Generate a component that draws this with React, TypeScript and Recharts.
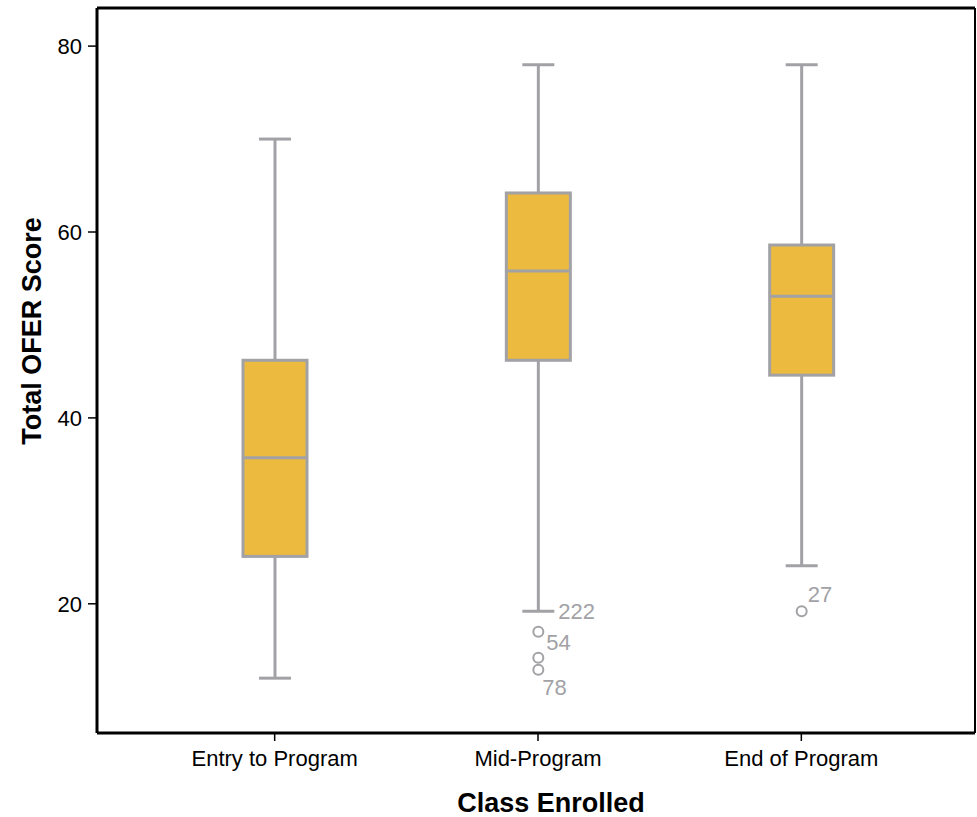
import { Bar, ComposedChart, Customized, XAxis, YAxis } from 'recharts'

const CATEGORIES = ['Entry to Program', 'Mid-Program', 'End of Program']
const WHISKER_LOW = [12, 19.2, 24.1]
const Q1 = [25.1, 46.2, 44.6]
const MEDIAN = [35.7, 55.8, 53.1]
const Q3 = [46.2, 64.2, 58.6]
const WHISKER_HIGH = [70, 78, 78]
// outlier values with SPSS case ids (empty id = unlabelled)
const OUTLIERS = [
  [],
  [
    { value: 19.2, id: '222', hidden: true },
    { value: 17.0, id: '54' },
    { value: 14.2, id: '' },
    { value: 12.9, id: '78' },
  ],
  [{ value: 19.2, id: '27' }],
]
const Y_TICKS = [20, 40, 60, 80]

const FONT = '"Liberation Sans", Arial, sans-serif'
const BOX_FILL = '#ebba3f'
const GREY = '#a2a2a6'
const LABEL_OFFSET: Record<string, [number, number]> = {
  '222': [20, 0],
  '54': [8, 11],
  '78': [4, 18],
  '27': [6, -17],
}

const data = CATEGORIES.map((name, i) => ({
  name,
  range: [WHISKER_LOW[i], WHISKER_HIGH[i]],
  low: WHISKER_LOW[i],
  q1: Q1[i],
  median: MEDIAN[i],
  q3: Q3[i],
  high: WHISKER_HIGH[i],
  outliers: OUTLIERS[i],
}))

function BoxShape(props: any) {
  const { x, y, width, height, payload } = props
  const top = Math.min(y, y + height)
  const h = Math.abs(height)
  const { low, high, q1, median, q3, outliers } = payload
  const py = (v: number) => top + ((high - v) / (high - low)) * h
  const cx = x + width / 2
  const cap = width / 2
  return (
    <g>
      <line x1={cx} x2={cx} y1={py(high)} y2={py(q3)} stroke={GREY} strokeWidth={3} />
      <line x1={cx} x2={cx} y1={py(q1)} y2={py(low)} stroke={GREY} strokeWidth={3} />
      <line x1={cx - cap / 2} x2={cx + cap / 2} y1={py(high)} y2={py(high)} stroke={GREY} strokeWidth={3} />
      <line x1={cx - cap / 2} x2={cx + cap / 2} y1={py(low)} y2={py(low)} stroke={GREY} strokeWidth={3} />
      <rect x={x} y={py(q3)} width={width} height={py(q1) - py(q3)} fill={BOX_FILL} stroke={GREY} strokeWidth={3} />
      <line x1={x} x2={x + width} y1={py(median)} y2={py(median)} stroke={GREY} strokeWidth={3} />
      {outliers.map((o: any, k: number) => {
        const oy = py(o.value)
        const off = LABEL_OFFSET[o.id] ?? [8, 10]
        return (
          <g key={k}>
            {!o.hidden && <circle cx={cx} cy={oy} r={5} fill="#fff" stroke={GREY} strokeWidth={2} />}
            {o.id && (
              <text
                x={cx + off[0]}
                y={oy + off[1]}
                dominantBaseline="central"
                fontFamily={FONT}
                fontSize={22}
                fill={GREY}
              >
                {o.id}
              </text>
            )}
          </g>
        )
      })}
    </g>
  )
}

function AxisTitles() {
  return (
    <g fontFamily={FONT} fontWeight="bold" fontSize={27} fill="#000">
      <text x={551} y={803} textAnchor="middle" dominantBaseline="central">
        Class Enrolled
      </text>
      <text x={32} y={331} textAnchor="middle" dominantBaseline="central" transform="rotate(-90 32 331)">
        Total OFER Score
      </text>
    </g>
  )
}

export default function App() {
  return (
    <div style={{ position: 'absolute', left: 0, top: 0, background: '#fff' }}>
      <ComposedChart width={977} height={817} data={data} margin={{ top: 7, right: 0, left: 37, bottom: 44 }}>
        <XAxis
          dataKey="name"
          padding={{ left: 46, right: 42 }}
          axisLine={{ stroke: '#000', strokeWidth: 3 }}
          tickLine={{ stroke: '#000', strokeWidth: 1.5 }}
          tickSize={8}
          tickMargin={9}
          height={40}
          tick={{ fontFamily: FONT, fontSize: 22, fill: '#000' }}
        />
        <XAxis
          xAxisId="top"
          orientation="top"
          dataKey="name"
          tick={false}
          tickLine={false}
          height={1}
          axisLine={{ stroke: '#000', strokeWidth: 3 }}
        />
        <YAxis
          domain={[6.1, 84.1]}
          ticks={Y_TICKS}
          width={60}
          axisLine={{ stroke: '#000', strokeWidth: 3 }}
          tickLine={{ stroke: '#000', strokeWidth: 1.5 }}
          tickSize={9}
          tickMargin={6}
          tick={{ fontFamily: FONT, fontSize: 22, fill: '#000' }}
          allowDataOverflow
        />
        <YAxis
          yAxisId="right"
          orientation="right"
          tick={false}
          tickLine={false}
          width={2}
          axisLine={{ stroke: '#000', strokeWidth: 2 }}
        />
        <Bar dataKey="range" barSize={64} shape={BoxShape} isAnimationActive={false} />
        <Customized component={AxisTitles} />
      </ComposedChart>
    </div>
  )
}
